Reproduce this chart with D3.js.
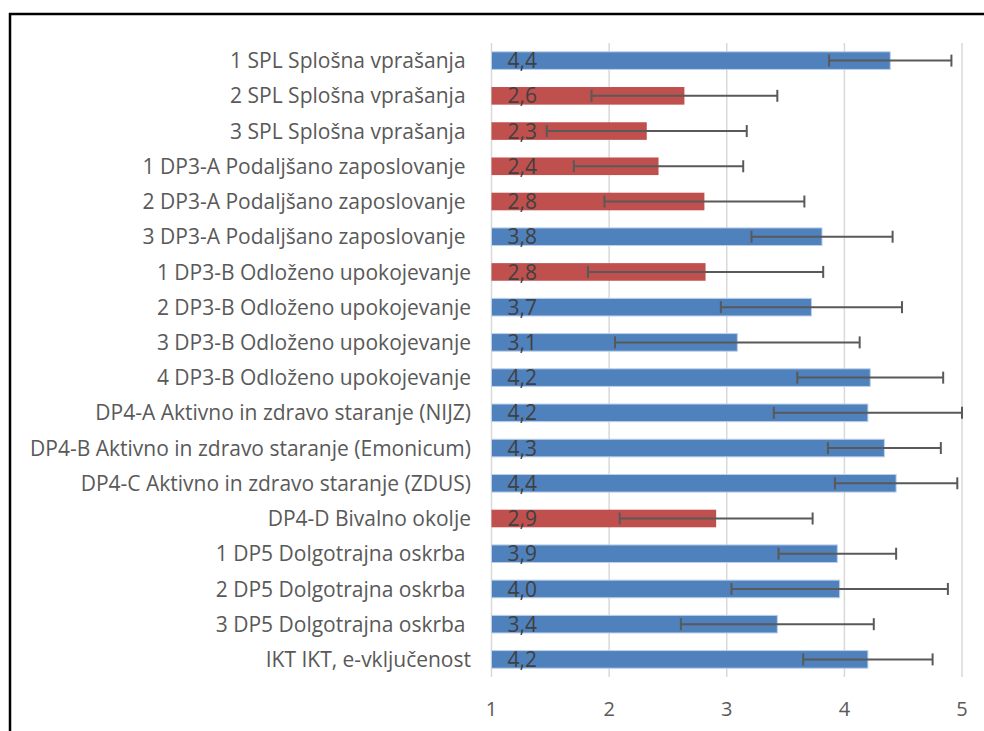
<!DOCTYPE html>
<meta charset="utf-8">
<style>
body { margin: 0; background: #fff; }
text { font-family: "Open Sans", Lato, sans-serif; }
.grid line { stroke: #d9d9d9; stroke-width: 1.5px; }
.err line { stroke: #595959; stroke-width: 2px; }
</style>
<svg width="984" height="731"></svg>
<script src="https://d3js.org/d3.v7.min.js"></script>
<script>
var categories = [
  "1 SPL Splošna vprašanja ",
  "2 SPL Splošna vprašanja ",
  "3 SPL Splošna vprašanja ",
  "1 DP3-A Podaljšano zaposlovanje ",
  "2 DP3-A Podaljšano zaposlovanje ",
  "3 DP3-A Podaljšano zaposlovanje ",
  "1 DP3-B Odloženo upokojevanje",
  "2 DP3-B Odloženo upokojevanje",
  "3 DP3-B Odloženo upokojevanje",
  "4 DP3-B Odloženo upokojevanje",
  "DP4-A Aktivno in zdravo staranje (NIJZ)",
  "DP4-B Aktivno in zdravo staranje (Emonicum)",
  "DP4-C Aktivno in zdravo staranje (ZDUS)",
  "DP4-D Bivalno okolje",
  "1 DP5 Dolgotrajna oskrba ",
  "2 DP5 Dolgotrajna oskrba ",
  "3 DP5 Dolgotrajna oskrba ",
  "IKT IKT, e-vključenost"
];
var means = [4.39, 2.64, 2.32, 2.42, 2.81, 3.81, 2.82, 3.72, 3.09, 4.22,
             4.20, 4.34, 4.44, 2.91, 3.94, 3.96, 3.43, 4.20];
var sds   = [0.52, 0.79, 0.85, 0.72, 0.85, 0.60, 1.00, 0.77, 1.04, 0.62,
             0.80, 0.48, 0.52, 0.82, 0.50, 0.92, 0.82, 0.55];
var xTicks = [1, 2, 3, 4, 5];
var threshold = 3; // below: red, otherwise blue

var svg = d3.select("svg");

svg.append("rect")
    .attr("x", 10).attr("y", 14)
    .attr("width", 1000).attr("height", 800)
    .attr("fill", "none")
    .attr("stroke", "#000")
    .attr("stroke-width", 2.5);

var x = d3.scaleLinear().domain([1, 5]).range([491.5, 962]);
var y = d3.scaleBand().domain(categories).range([43, 677]).paddingInner(0.5).paddingOuter(0.25);

var data = categories.map(function(c, i) { return {cat: c, mean: means[i], sd: sds[i]}; });

svg.append("g")
    .attr("class", "grid")
  .selectAll("line")
  .data(xTicks)
  .enter().append("line")
    .attr("x1", function(d) { return x(d); })
    .attr("x2", function(d) { return x(d); })
    .attr("y1", 43)
    .attr("y2", 677);

svg.append("g")
  .selectAll("rect")
  .data(data)
  .enter().append("rect")
    .attr("x", x(1))
    .attr("y", function(d) { return y(d.cat); })
    .attr("width", function(d) { return x(d.mean) - x(1); })
    .attr("height", y.bandwidth())
    .attr("fill", function(d) { return d.mean < threshold ? "#c0504d" : "#4f81bd"; })
    .attr("stroke", function(d) { return d.mean < threshold ? "none" : "#bcd0ea"; })
    .attr("stroke-width", 1);

svg.append("g")
  .selectAll("text")
  .data(data)
  .enter().append("text")
    .attr("x", x(1) + 16)
    .attr("y", function(d) { return y(d.cat) + y.bandwidth() / 2; })
    .attr("dy", "0.36em")
    .attr("font-size", 21)
    .attr("fill", "#404040")
    .text(function(d) { return d3.format(".1f")(d.mean).replace(".", ","); });

var err = svg.append("g").attr("class", "err")
  .selectAll("g")
  .data(data)
  .enter().append("g")
    .attr("transform", function(d) { return "translate(0," + (y(d.cat) + y.bandwidth() / 2) + ")"; });

err.append("line")
    .attr("x1", function(d) { return x(d.mean - d.sd); })
    .attr("x2", function(d) { return x(Math.min(5, d.mean + d.sd)); });
err.append("line")
    .attr("x1", function(d) { return x(d.mean - d.sd); })
    .attr("x2", function(d) { return x(d.mean - d.sd); })
    .attr("y1", -6).attr("y2", 6);
err.append("line")
    .attr("x1", function(d) { return x(Math.min(5, d.mean + d.sd)); })
    .attr("x2", function(d) { return x(Math.min(5, d.mean + d.sd)); })
    .attr("y1", -6).attr("y2", 6);

svg.append("g")
  .selectAll("text")
  .data(categories)
  .enter().append("text")
    .attr("x", 471)
    .attr("y", function(d) { return y(d) + y.bandwidth() / 2; })
    .attr("dy", "0.36em")
    .attr("text-anchor", "end")
    .attr("font-size", 21)
    .attr("fill", "#595959")
    .style("white-space", "pre")
    .text(function(d) { return d; });

svg.append("g")
  .selectAll("text")
  .data(xTicks)
  .enter().append("text")
    .attr("x", function(d) { return x(d); })
    .attr("y", 709)
    .attr("dy", "0.36em")
    .attr("text-anchor", "middle")
    .attr("font-size", 20)
    .attr("fill", "#595959")
    .text(function(d) { return d; });
</script>
